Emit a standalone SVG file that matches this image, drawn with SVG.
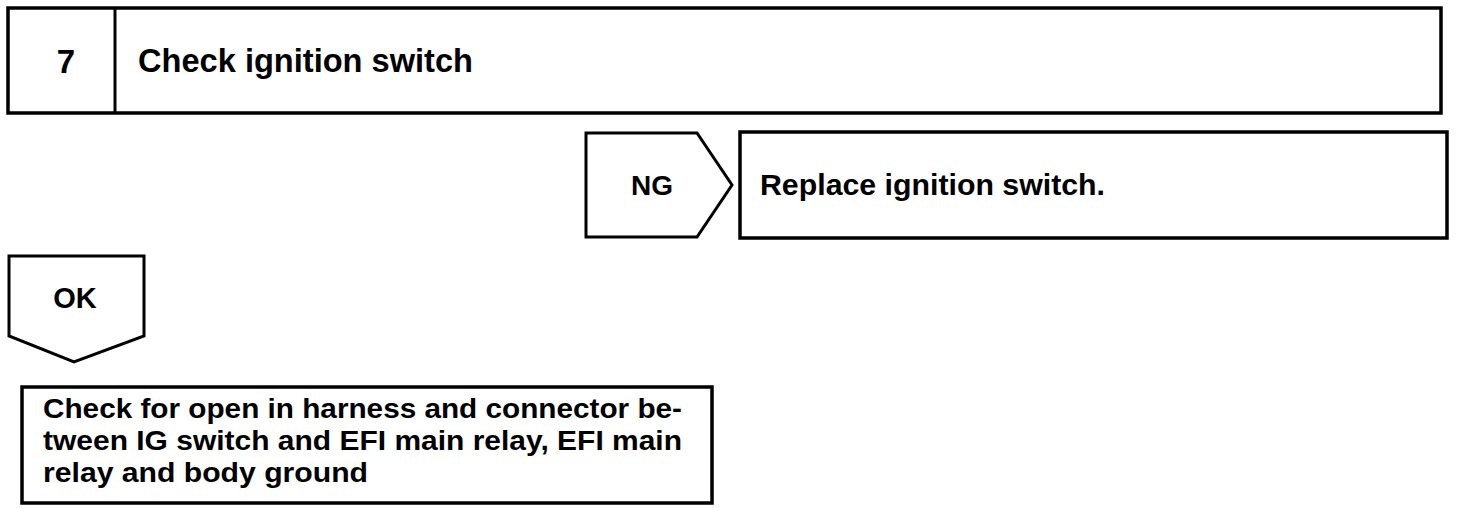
<svg xmlns="http://www.w3.org/2000/svg" width="1472" height="508" viewBox="0 0 1472 508">
<style>
.box{fill:#fff;stroke:#000;stroke-width:3.5}
.tag{fill:#fff;stroke:#000;stroke-width:3;stroke-linejoin:miter}
.t{font-family:"Liberation Sans",Arial,sans-serif;font-weight:bold;fill:#000}
</style>
<rect width="1472" height="508" fill="#fff"/>
<g id="step7">
<rect class="box" x="8" y="8" width="1433" height="105"/>
<line x1="115" y1="8" x2="115" y2="113" stroke="#000" stroke-width="3"/>
<text class="t" x="66" y="73" font-size="33" text-anchor="middle">7</text>
<text class="t" x="138" y="72" font-size="33" textLength="335" lengthAdjust="spacingAndGlyphs">Check ignition switch</text>
</g>
<g id="connectors">
<g id="ng">
<polygon class="tag" points="586,133 697,133 732,185 697,237 586,237"/>
<text class="t" x="652" y="195" font-size="28" text-anchor="middle">NG</text>
</g>
<g id="ok">
<polygon class="tag" points="9,256 144,256 144,336 74,362 9,336"/>
<text class="t" x="75" y="308" font-size="29" text-anchor="middle">OK</text>
</g>
</g>
<g id="replace">
<rect class="box" x="740" y="132" width="707" height="106"/>
<text class="t" x="760" y="195" font-size="30" textLength="345" lengthAdjust="spacingAndGlyphs">Replace ignition switch.</text>
</g>
<g id="check-harness">
<rect class="box" x="22" y="387" width="690" height="116"/>
<text class="t" x="43" y="418" font-size="28" textLength="639" lengthAdjust="spacingAndGlyphs">Check for open in harness and connector be-</text>
<text class="t" x="43" y="450" font-size="28" textLength="639" lengthAdjust="spacingAndGlyphs">tween IG switch and EFI main relay, EFI main</text>
<text class="t" x="43" y="482" font-size="28" textLength="325" lengthAdjust="spacingAndGlyphs">relay and body ground</text>
</g>
</svg>
